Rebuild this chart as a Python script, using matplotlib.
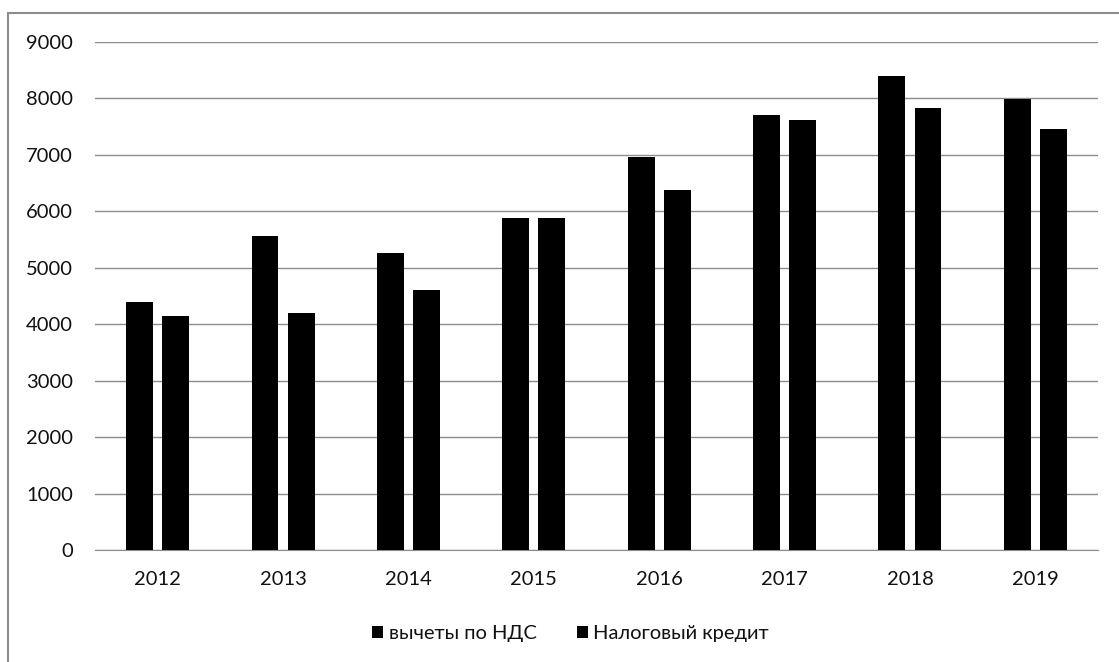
import numpy as np
import matplotlib.pyplot as plt
from matplotlib.patches import Rectangle

# Data
years = ["2012", "2013", "2014", "2015", "2016", "2017", "2018", "2019"]
vat_deductions = [4400, 5570, 5270, 5890, 6960, 7700, 8400, 7990]
tax_credit = [4150, 4190, 4600, 5890, 6370, 7610, 7830, 7450]
yticks = [0, 1000, 2000, 3000, 4000, 5000, 6000, 7000, 8000, 9000]

plt.rcParams["font.family"] = ["Lato", "DejaVu Sans"]

fig = plt.figure(figsize=(11.19, 6.62), dpi=100)
ax = fig.add_axes([95 / 1119, 1 - 550 / 662, (1098 - 95) / 1119, (550 - 42) / 662])

# outer frame of the chart area
fig.patches.append(Rectangle((8 / 1119, -0.01), 1.1, 1 - 13 / 662 + 0.01,
                             transform=fig.transFigure, fill=False,
                             edgecolor="#8c8c8c", linewidth=1.5))

x = np.arange(len(years))
w = 0.215
off = 0.144
ax.bar(x - off, vat_deductions, w, color="black", label="вычеты по НДС", zorder=3)
ax.bar(x + off, tax_credit, w, color="black", label="Налоговый кредит", zorder=3)

ax.set_xlim(-0.5, len(years) - 0.5)
ax.set_ylim(0, 9000)
ax.set_yticks(yticks)
ax.set_xticks(x)
ax.set_xticklabels(years)
ax.tick_params(axis="both", length=0, labelsize=14.5, colors="#111111")
ax.tick_params(axis="y", pad=16)
ax.tick_params(axis="x", pad=15)
ax.grid(axis="y", color="#8c8c8c", linewidth=1, zorder=0)
for s in ["top", "right", "left"]:
    ax.spines[s].set_visible(False)
ax.spines["bottom"].set_color("#8c8c8c")

leg = ax.legend(loc="center", bbox_to_anchor=(0.474, -0.165), ncol=2, frameon=False,
                fontsize=14.5, handlelength=0.55, handleheight=0.55, handletextpad=0.25,
                columnspacing=2.0)
for t in leg.get_texts():
    t.set_color("#111111")

fig.savefig("out.png", dpi=100)
